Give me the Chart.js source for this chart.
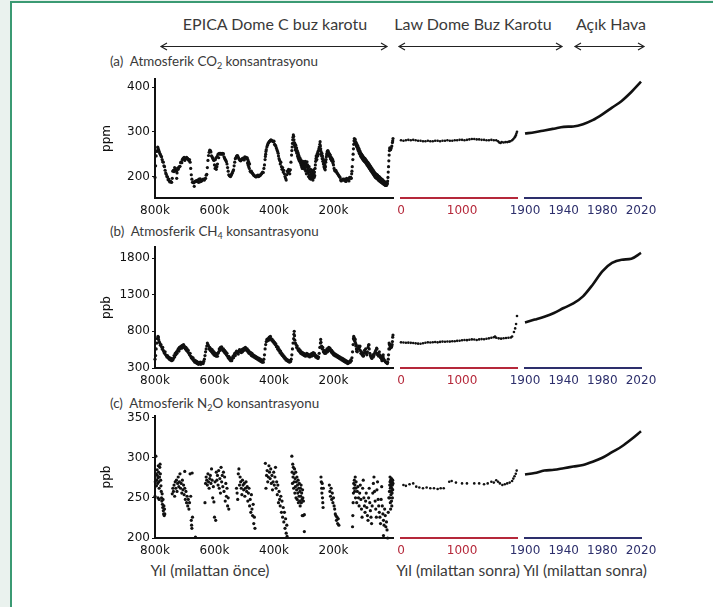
<!DOCTYPE html>
<html lang="tr">
<head>
  <meta charset="UTF-8">
  <title>Atmosferik sera gazı konsantrasyonları</title>
  <script src="https://cdn.jsdelivr.net/npm/chart.js"></script>
  <style>
    html, body { margin: 0; padding: 0; background: #eaf2ee; }
    #wrap { position: relative; width: 713px; height: 607px; overflow: hidden; }
    #frame {
      position: absolute; left: 10px; top: 1px; width: 710px; height: 620px;
      background: #fff; border-left: 2px solid #3b9a73; border-top: 2px solid #3b9a73;
    }
    .txt { position: absolute; font-family: Lato, 'Open Sans', sans-serif; color: #3a3a3a; line-height: 1; white-space: nowrap; }
    .hdr { font-size: 16px; transform: translateX(-50%); }
    .ttl { font-size: 13.4px; }
    .xl { font-size: 15.5px; transform: translateX(-50%); }
    sub { font-size: 9px; vertical-align: -3px; line-height: 0; }
    canvas { position: absolute; }
  </style>
</head>
<body>
<div id="wrap">
  <div id="frame"></div>

  <div class="txt hdr" style="left:275px;top:16px">EPICA Dome C buz karotu</div>
  <div class="txt hdr" style="left:473px;top:16px">Law Dome Buz Karotu</div>
  <div class="txt hdr" style="left:611px;top:16px">Açık Hava</div>

  <svg width="713" height="607" style="position:absolute;left:0;top:0" fill="none" stroke="#222" stroke-width="1.2">
    <path d="M161 46.5 H387 M167 43 L161 46.5 L167 50 M381 43 L387 46.5 L381 50"/>
    <path d="M399 46.5 H562 M405 43 L399 46.5 L405 50 M556 43 L562 46.5 L556 50"/>
    <path d="M575 46.5 H644 M581 43 L575 46.5 L581 50 M638 43 L644 46.5 L638 50"/>
  </svg>

  <div class="txt ttl" style="left:110px;top:55px">(a)&nbsp; Atmosferik CO<sub>2</sub> konsantrasyonu</div>
  <div class="txt ttl" style="left:110px;top:225px">(b)&nbsp; Atmosferik CH<sub>4</sub> konsantrasyonu</div>
  <div class="txt ttl" style="left:110px;top:397px">(c)&nbsp; Atmosferik N<sub>2</sub>O konsantrasyonu</div>

  <div class="txt xl" style="left:210px;top:563px">Yıl (milattan önce)</div>
  <div class="txt xl" style="left:458px;top:563px">Yıl (milattan sonra)</div>
  <div class="txt xl" style="left:585px;top:563px">Yıl (milattan sonra)</div>
</div>

<script>
  // tick values
  const iceTicks = [800, 600, 400, 200];
  const lawTicks = [0, 1000];
  const modernTicks = [1900, 1940, 1980, 2020];
  const co2Ticks = [200, 300, 400];
  const ch4Ticks = [300, 800, 1300, 1800];
  const n2oTicks = [200, 250, 300, 350];

  // EPICA Dome C: [bin yıl önce, değer]
  const co2Ice = [[800,198],[798,224],[796,246],[794,256],[792,258],[791,266],[790,264],[788,260],[786,256],[784,252],[782,249],[780,246],[778,244],[776,238],[774,233],[772,232],[770,224],[768,222],[766,214],[764,208],[762,205],[760,200],[758,199],[756,193],[754,194],[752,190],[750,188],[748,189],[746,188],[744,187],[742,196],[740,212],[738,214],[736,211],[734,220],[732,217],[730,214],[728,212],[727,196],[726,208],[724,219],[722,216],[720,220],[718,222],[716,223],[714,231],[712,233],[710,231],[708,238],[706,240],[704,241],[702,243],[700,236],[698,239],[696,240],[694,243],[692,241],[690,240],[688,238],[686,236],[684,238],[682,232],[680,218],[678,204],[676,194],[674,187],[672,188],[670,186],[668,178],[666,188],[664,190],[662,189],[660,191],[658,190],[656,192],[654,187],[652,194],[650,188],[648,195],[646,189],[644,190],[642,191],[640,193],[638,194],[636,193],[634,192],[632,195],[630,196],[628,203],[626,205],[624,220],[622,236],[620,247],[618,254],[616,259],[614,258],[612,255],[610,246],[608,244],[606,241],[604,238],[602,236],[600,226],[598,218],[597,238],[596,224],[595,242],[594,216],[592,222],[591,245],[590,228],[588,250],[586,242],[584,252],[582,250],[580,252],[578,251],[576,250],[574,252],[572,250],[570,251],[568,244],[566,241],[564,238],[562,236],[560,233],[558,228],[556,220],[554,212],[552,204],[550,202],[548,201],[546,200],[544,203],[542,206],[540,208],[538,212],[536,215],[534,224],[532,232],[530,240],[528,242],[526,245],[524,247],[522,246],[520,243],[518,240],[516,238],[514,236],[512,235],[510,237],[508,239],[506,240],[504,241],[502,238],[500,237],[498,244],[496,242],[494,243],[492,240],[490,242],[489,230],[488,238],[487,226],[486,234],[485,222],[484,230],[483,218],[482,228],[480,212],[478,210],[476,212],[474,209],[472,207],[470,205],[468,203],[466,202],[464,201],[462,200],[460,199],[458,201],[456,202],[454,203],[452,200],[450,201],[448,202],[446,203],[444,205],[442,206],[440,208],[438,210],[436,209],[434,218],[432,226],[430,238],[429,245],[428,250],[427,256],[426,260],[424,266],[422,270],[420,274],[418,276],[416,278],[414,279],[412,281],[410,282],[408,280],[406,280],[404,279],[402,278],[400,279],[398,272],[396,270],[394,268],[392,264],[390,260],[388,256],[386,252],[385,246],[383,240],[381,236],[379,228],[377,232],[375,222],[373,216],[371,220],[369,210],[367,214],[365,206],[363,200],[361,196],[359,192],[357,204],[355,212],[353,208],[351,216],[349,212],[347,206],[345,215],[343,232],[341,248],[340,258],[339,266],[338,274],[337,282],[336,288],[335,293],[334,290],[333,282],[332,276],[331,270],[330,274],[329,266],[328,260],[327,270],[326,262],[325,256],[324,264],[323,252],[322,258],[321,246],[320,254],[319,242],[318,250],[317,238],[316,246],[315,240],[314,234],[313,242],[312,236],[311,230],[310,238],[309,226],[308,232],[307,222],[306,230],[305,218],[304,226],[303,234],[302,224],[301,218],[300,228],[299,222],[298,232],[297,216],[296,226],[295,234],[294,220],[293,212],[292,228],[291,206],[290,222],[289,233],[288,214],[287,226],[286,208],[285,218],[284,200],[283,212],[282,222],[281,204],[280,196],[279,210],[278,200],[277,216],[276,194],[275,206],[274,198],[273,212],[272,204],[271,196],[270,208],[269,192],[268,202],[267,215],[266,206],[265,198],[264,210],[263,202],[262,218],[261,226],[260,234],[259,240],[258,246],[257,244],[256,238],[255,248],[254,252],[253,246],[252,256],[251,250],[250,258],[249,262],[248,266],[247,260],[246,272],[245,278],[244,268],[243,262],[242,256],[241,250],[240,246],[239,252],[238,240],[237,246],[236,234],[235,240],[234,228],[233,236],[232,222],[231,230],[230,218],[229,226],[228,215],[227,222],[226,232],[225,238],[224,244],[223,248],[222,252],[221,256],[220,250],[219,258],[218,252],[217,255],[216,249],[215,252],[214,246],[213,250],[212,244],[211,248],[210,240],[209,244],[208,238],[207,242],[206,236],[205,240],[204,234],[203,238],[202,230],[201,234],[200,226],[198,218],[196,214],[194,212],[192,214],[190,210],[188,208],[186,206],[184,204],[182,202],[180,200],[178,198],[176,192],[174,190],[172,192],[170,193],[168,194],[166,192],[164,194],[162,191],[160,190],[158,189],[156,196],[154,194],[152,193],[150,192],[148,190],[146,198],[144,196],[142,198],[140,196],[139,206],[138,212],[137,222],[135,238],[134,250],[133,262],[132,272],[131,280],[130,285],[128,276],[127,283],[126,278],[125,272],[124,276],[123,268],[122,273],[121,266],[120,270],[119,262],[118,268],[117,258],[116,264],[115,256],[114,262],[113,252],[112,258],[111,250],[110,255],[109,246],[108,252],[107,244],[106,250],[105,242],[104,248],[103,240],[102,246],[101,238],[100,244],[99,236],[98,242],[97,235],[96,241],[95,233],[94,240],[93,232],[92,238],[91,230],[90,236],[89,228],[88,234],[87,226],[86,232],[85,224],[84,231],[83,222],[82,229],[81,220],[80,227],[79,218],[78,225],[77,216],[76,223],[75,214],[74,221],[73,212],[72,219],[71,210],[70,217],[69,208],[68,215],[67,206],[66,213],[65,204],[64,211],[63,202],[62,209],[61,200],[60,207],[59,198],[58,206],[57,197],[56,205],[55,196],[54,204],[53,195],[52,203],[51,194],[50,201],[49,192],[48,200],[47,191],[46,199],[45,190],[44,198],[43,189],[42,196],[41,188],[40,195],[39,187],[38,194],[37,186],[36,193],[35,185],[34,192],[33,184],[32,190],[31,183],[30,189],[29,182],[28,188],[27,181],[26,187],[25,180],[24,186],[23,180],[22,185],[21,181],[20,186],[19,184],[18,190],[17,198],[16,210],[15,222],[14,235],[13,248],[12,258],[11,264],[10,262],[8,260],[6,264],[4,268],[2,276],[1,280],[0,285]];

  const ch4Ice = [[800,420],[798,470],[796,560],[794,640],[792,700],[790,730],[789,720],[788,690],[786,660],[784,640],[782,610],[780,620],[778,590],[776,560],[774,580],[772,540],[770,520],[768,500],[766,520],[764,480],[762,470],[760,450],[758,470],[756,440],[754,450],[752,420],[750,440],[748,410],[746,430],[744,400],[742,420],[740,410],[738,430],[736,470],[734,450],[732,500],[730,480],[728,520],[726,500],[724,540],[722,560],[720,530],[718,580],[716,560],[714,590],[712,600],[710,570],[708,610],[706,580],[704,620],[702,600],[700,590],[698,560],[696,580],[694,540],[692,560],[690,520],[688,540],[686,500],[684,480],[682,500],[680,460],[678,440],[676,450],[674,420],[672,440],[670,400],[668,410],[666,380],[664,400],[662,370],[660,390],[658,360],[656,380],[654,350],[652,370],[650,360],[648,380],[646,350],[644,370],[642,360],[640,380],[638,360],[636,390],[634,420],[632,470],[630,520],[628,560],[626,600],[624,640],[622,620],[620,600],[618,560],[616,580],[614,540],[612,560],[610,520],[608,550],[606,500],[604,530],[602,480],[600,510],[598,470],[596,500],[594,460],[592,490],[590,460],[588,500],[586,520],[584,560],[582,540],[580,580],[578,560],[576,590],[574,560],[572,540],[570,560],[568,520],[566,540],[564,500],[562,520],[560,480],[558,500],[556,460],[554,440],[552,460],[550,420],[548,440],[546,400],[544,420],[542,400],[540,430],[538,460],[536,440],[534,480],[532,500],[530,470],[528,510],[526,530],[524,500],[522,520],[520,490],[518,530],[516,550],[514,520],[512,540],[510,510],[508,550],[506,520],[504,560],[502,540],[500,570],[498,550],[496,580],[494,560],[492,540],[490,560],[488,520],[486,540],[484,500],[482,520],[480,490],[478,510],[476,470],[474,500],[472,460],[470,480],[468,450],[466,470],[464,440],[462,460],[460,430],[458,450],[456,420],[454,440],[452,410],[450,430],[448,400],[446,420],[444,390],[442,410],[440,380],[438,400],[436,380],[434,420],[432,480],[430,560],[428,620],[426,660],[424,690],[422,670],[420,700],[418,680],[416,720],[414,700],[412,730],[410,700],[408,680],[406,690],[404,660],[402,670],[400,640],[398,650],[396,620],[394,630],[392,590],[390,600],[388,560],[386,580],[384,540],[382,550],[380,510],[378,530],[376,490],[374,500],[372,470],[370,480],[368,450],[366,460],[364,430],[362,440],[360,410],[358,420],[356,400],[354,410],[352,390],[350,400],[348,380],[346,400],[344,390],[342,420],[340,480],[338,560],[336,640],[334,700],[333,760],[332,800],[331,740],[330,680],[328,640],[326,620],[324,580],[322,600],[320,560],[318,540],[316,560],[314,520],[312,540],[310,500],[308,520],[306,490],[304,510],[302,480],[300,500],[298,470],[296,490],[294,460],[292,480],[290,500],[288,470],[286,490],[284,460],[282,480],[280,450],[278,470],[276,490],[274,460],[272,500],[270,470],[268,510],[266,480],[264,500],[262,470],[260,450],[258,470],[256,440],[254,460],[252,430],[250,450],[248,500],[246,580],[244,640],[243,690],[242,650],[240,600],[238,560],[236,580],[234,520],[232,540],[230,500],[228,520],[226,500],[224,540],[222,560],[220,520],[218,560],[216,580],[214,540],[212,570],[210,550],[208,520],[206,540],[204,500],[202,520],[200,480],[198,500],[196,470],[194,490],[192,460],[190,480],[188,450],[186,470],[184,440],[182,460],[180,430],[178,450],[176,420],[174,440],[172,410],[170,430],[168,400],[166,420],[164,390],[162,410],[160,380],[158,400],[156,370],[154,390],[152,360],[150,380],[148,370],[146,390],[144,380],[142,410],[140,400],[138,440],[136,520],[134,620],[133,700],[132,730],[131,710],[130,680],[129,700],[128,660],[127,690],[126,640],[125,600],[124,620],[123,560],[122,530],[121,560],[120,520],[118,560],[116,600],[115,580],[114,560],[112,590],[111,600],[110,540],[108,500],[106,520],[104,480],[102,500],[100,460],[99,470],[98,500],[96,540],[94,520],[92,560],[90,500],[88,480],[86,520],[84,580],[82,610],[81,620],[80,560],[78,500],[76,470],[74,450],[72,440],[71,430],[70,460],[68,480],[66,450],[64,470],[62,500],[60,520],[58,540],[56,500],[55,570],[54,560],[52,480],[50,500],[48,460],[46,520],[44,480],[42,440],[40,460],[38,420],[37,400],[36,440],[34,460],[33,480],[32,430],[30,410],[28,400],[26,390],[24,380],[22,370],[20,370],[19,360],[18,380],[16,420],[15,480],[14,560],[13,640],[12,620],[11,560],[10,600],[9,620],[8,580],[7,600],[6,580],[5,590],[4,600],[3,620],[2,660],[1,720],[0,750]];

  const n2oIce = [[800,252],[799,270],[797,302],[796,280],[795,265],[794,272],[793,285],[792,278],[791,268],[790,250],[790,275],[789,290],[788,282],[787,270],[786,248],[786,262],[785,276],[784,288],[783,292],[782,280],[781,272],[780,265],[779,258],[778,250],[777,246],[776,255],[775,242],[774,238],[773,248],[772,234],[771,230],[770,240],[769,228],[768,236],[767,230],
    [742,255],[740,262],[738,258],[736,266],[734,252],[732,270],[730,262],[728,272],[726,258],[724,268],[722,276],[720,264],[718,270],[716,280],[714,262],[712,268],[710,256],[708,272],[706,260],[704,266],[702,254],[700,283],[700,262],[698,248],[696,258],[694,244],[692,252],[690,240],[688,248],[686,236],[684,244],[682,280],[680,252],[678,222],[677,216],[676,212],[675,281],[674,226],[664,201],
    [632,244],[630,268],[628,276],[626,272],[624,266],[622,280],[620,270],[618,262],[616,274],[614,278],[612,268],[610,286],[608,272],[606,250],[604,264],[602,245],[600,226],[598,270],[596,222],[594,282],[592,272],[590,278],[588,266],[586,284],[584,262],[582,274],[580,256],[578,288],[576,270],[574,278],[572,264],[570,282],[568,258],[566,276],[564,246],[562,268],[560,252],[558,262],[556,240],[554,250],[552,236],
    [526,262],[524,256],[522,248],[520,280],[518,286],[516,266],[514,276],[512,270],[510,262],[508,254],[506,272],[504,266],[502,260],[500,268],[498,252],[496,262],[494,270],[492,258],[490,264],[488,246],[486,256],[484,262],[482,240],[480,248],[478,232],[476,254],[474,236],[472,228],[470,242],[468,218],[466,226],[464,212],
    [429,293],[427,262],[425,278],[423,284],[421,270],[419,276],[417,290],[415,282],[413,274],[411,286],[409,268],[407,278],[405,260],[403,270],[401,282],[399,266],[397,276],[395,288],[393,262],[391,270],[389,254],[387,266],[385,244],[383,258],[381,248],[379,240],[377,252],[375,232],[373,246],[371,226],[369,238],[367,220],[365,232],[363,212],[361,224],[359,206],[357,216],[356,202],
    [340,302],[339,282],[338,268],[337,292],[336,276],[335,288],[334,262],[333,280],[332,270],[331,286],[330,256],[329,274],[328,264],[327,282],[326,250],[325,270],[324,260],[323,276],[322,248],[321,266],[320,256],[319,272],[318,244],[317,262],[316,252],[315,268],[314,246],[313,258],[312,240],[311,262],[310,252],[309,266],[308,244],[307,256],[306,248],[305,228],[304,260],[303,250],[302,228],[301,246],[298,229],[298,208],
    [242,276],[241,270],[240,262],[239,256],[238,268],[237,250],[236,244],[235,238],[234,262],
    [214,266],[212,258],[210,252],[208,262],[206,248],[204,256],[202,244],[200,250],[198,240],[196,236],[194,230],[192,228],[190,222],[188,226],[186,218],[184,224],[182,216],
    [136,214],[135,228],[134,244],[133,256],[132,268],[131,262],[130,272],[129,258],[128,266],[127,276],[126,250],[125,262],[124,270],[122,244],[120,258],[118,264],[116,250],[114,240],[112,256],[110,266],[108,248],[106,236],[104,226],[102,262],[100,272],[98,250],[96,240],[94,232],[92,246],[90,256],[88,238],[86,228],[84,222],[82,250],[80,262],[78,244],[76,234],[74,226],[72,218],[70,240],[68,256],[66,268],[64,276],[62,258],[60,246],[58,236],[56,226],[54,260],[52,270],[50,248],[48,240],[46,232],[44,226],[42,218],[40,248],[38,264],[36,240],[34,230],[32,222],[32,203],[30,216],[28,236],[26,228],[24,214],[22,220],[20,210],[18,200],[16,232],[14,250],
    [12,258],[11,266],[10,270],[9,262],[8,272],[7,264],[6,268],[5,274],[4,262],[3,270],[2,266],[1,272],[0,268],[11,250],[9,244],[7,254],[5,246],[3,256],[1,260],[10,276],[6,258],[2,250],[4,240],[8,236]];

  // Law Dome: [yıl, değer]
  const co2Law = [[0,281],[40,280],[80,281],[120,282],[160,281],[200,282],[240,281],[280,280],[320,280],[360,279],[400,279],[440,280],[480,279],[520,279],[560,280],[600,280],[640,279],[680,280],[720,280],[760,281],[800,280],[840,280],[880,281],[920,281],[960,282],[1000,282],[1040,281],[1080,282],[1120,283],[1160,284],[1200,284],[1240,283],[1280,283],[1320,282],[1360,282],[1400,281],[1440,281],[1480,282],[1520,281],[1560,281],[1590,279],[1610,276],[1630,275],[1650,277],[1680,276],[1710,277],[1740,277],[1770,278],[1790,279],[1820,281],[1840,284],[1860,287],[1870,289],[1880,292],[1890,296],[1900,300]];
  const ch4Law = [[0,650],[40,648],[80,645],[120,646],[160,643],[200,640],[240,636],[280,632],[320,630],[360,638],[400,645],[440,650],[480,648],[520,652],[560,655],[600,650],[640,656],[680,660],[720,658],[760,662],[800,660],[840,665],[880,664],[920,670],[960,672],[1000,678],[1040,682],[1080,680],[1120,686],[1160,690],[1200,688],[1240,682],[1280,690],[1320,694],[1360,692],[1400,698],[1440,704],[1480,712],[1520,720],[1540,728],[1560,712],[1600,704],[1640,700],[1680,706],[1720,710],[1760,712],[1800,716],[1820,730],[1850,790],[1870,840],[1885,900],[1900,1010]];
  const n2oLaw = [[40,266],[80,265],[140,267],[200,268],[250,264],[300,263],[360,262],[420,263],[480,262],[540,262],[600,261],[650,262],[700,262],[790,270],[830,271],[900,269],[1000,268],[1080,268],[1200,268],[1280,268],[1360,267],[1420,268],[1480,270],[1520,269],[1560,272],[1590,270],[1620,268],[1660,266],[1700,267],[1740,268],[1780,269],[1820,271],[1840,274],[1860,277],[1880,280],[1895,284]];

  // Açık hava ölçümleri
  const modernYears = [1900, 1910, 1920, 1930, 1940, 1950, 1960, 1970, 1980, 1990, 2000, 2010, 2020];
  const co2Modern = [296, 299, 303, 307, 311, 312, 317, 326, 339, 354, 369, 389, 412];
  const ch4Modern = [922, 960, 1000, 1050, 1118, 1180, 1277, 1436, 1618, 1732, 1777, 1790, 1869];
  const n2oModern = [279, 281, 284, 285, 287, 289, 291, 295, 300, 307, 314, 323, 333];

  Chart.defaults.font.family = "'DejaVu Sans', sans-serif";
  Chart.defaults.font.size = 12;
  Chart.defaults.color = '#111';
  Chart.defaults.animation = false;

  const rows = [
    { top: 79, bottom: 198, min: 152, max: 418, ticks: co2Ticks, unit: 'ppm', ice: co2Ice, law: co2Law, modern: co2Modern },
    { top: 247, bottom: 368, min: 300, max: 1950, ticks: ch4Ticks, unit: 'ppb', ice: ch4Ice, law: ch4Law, modern: ch4Modern },
    { top: 416, bottom: 538, min: 200, max: 352, ticks: n2oTicks, unit: 'ppb', ice: n2oIce, law: n2oLaw, modern: n2oModern }
  ];
  const cols = [
    { left: 155, right: 393, min: 0, max: 800, reverse: true, ticks: iceTicks, color: '#111', label: v => v + 'k' },
    { left: 401, right: 517, min: 0, max: 1900, reverse: false, ticks: lawTicks, color: '#b5283a', label: v => String(v) },
    { left: 525, right: 641, min: 1900, max: 2020, reverse: false, ticks: modernTicks, color: '#2d2f6c', label: v => String(v) }
  ];

  const wrap = document.getElementById('wrap');

  function toXY(pairs) {
    return pairs.map(p => ({ x: p[0], y: p[1] }));
  }

  function makePanel(row, col, ci) {
    const yW = 55, pad = 22, padT = 10, xH = 22;
    const padL = ci === 0 ? yW : pad;
    const canvas = document.createElement('canvas');
    canvas.width = (col.right - col.left) + padL + pad;
    canvas.height = (row.bottom - row.top) + padT + xH;
    canvas.style.left = (col.left - padL) + 'px';
    canvas.style.top = (row.top - padT) + 'px';
    wrap.appendChild(canvas);

    let dataset;
    if (ci === 0) {
      dataset = { data: toXY(row.ice), pointRadius: 1.6, pointBackgroundColor: '#111', pointBorderWidth: 0, showLine: false };
    } else if (ci === 1) {
      dataset = { data: toXY(row.law), pointRadius: 1.3, pointBackgroundColor: '#111', pointBorderWidth: 0, showLine: false };
    } else {
      dataset = {
        data: modernYears.map((yr, i) => ({ x: yr, y: row.modern[i] })),
        showLine: true, pointRadius: 0, borderColor: '#111', borderWidth: 2.6,
        cubicInterpolationMode: 'monotone'
      };
    }
    dataset.clip = 4;

    new Chart(canvas, {
      type: 'scatter',
      data: { datasets: [dataset] },
      options: {
        responsive: false,
        layout: { padding: { left: ci === 0 ? 0 : pad, right: pad, top: padT, bottom: 0 } },
        plugins: { legend: { display: false }, tooltip: { enabled: false } },
        scales: {
          x: {
            type: 'linear', min: col.min, max: col.max, reverse: col.reverse,
            afterBuildTicks: s => { s.ticks = col.ticks.map(v => ({ value: v })); },
            afterFit: s => { s.height = xH; },
            grid: { display: false, drawTicks: false },
            border: { display: true, color: col.color, width: 2 },
            ticks: { color: col.color, padding: 6, autoSkip: false, maxRotation: 0, callback: v => col.label(v) }
          },
          y: {
            display: ci === 0,
            min: row.min, max: row.max,
            afterBuildTicks: s => { s.ticks = row.ticks.map(v => ({ value: v })); },
            afterFit: s => { if (ci === 0) s.width = yW; },
            grid: { display: true, drawOnChartArea: false, drawTicks: true, tickLength: 3, color: '#111' },
            border: { display: true, color: '#111', width: 2 },
            ticks: { padding: 2, callback: v => String(v) },
            title: { display: true, text: row.unit, padding: 0, font: { size: 12 } }
          }
        }
      }
    });
  }

  rows.forEach(row => cols.forEach((col, ci) => makePanel(row, col, ci)));
</script>
</body>
</html>
